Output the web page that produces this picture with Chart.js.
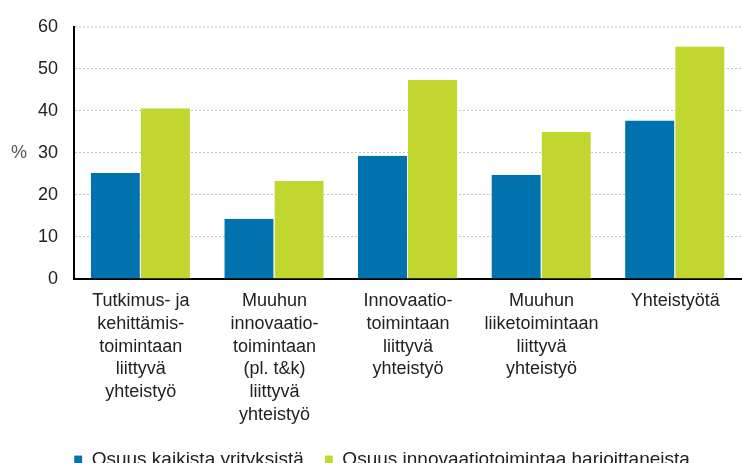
<!DOCTYPE html>
<html>
<head>
<meta charset="utf-8">
<script src="https://cdn.jsdelivr.net/npm/chart.js@4/dist/chart.umd.min.js"></script>
<style>
html,body{margin:0;padding:0;overflow:hidden;background:#fff;}
#wrap{width:742px;height:479px;position:relative;}
</style>
</head>
<body>
<div id="wrap"><canvas id="c"></canvas></div>
<script>
const categories = [
  ["Tutkimus- ja", "kehittämis-", "toimintaan", "liittyvä", "yhteistyö"],
  ["Muuhun", "innovaatio-", "toimintaan", "(pl. t&k)", "liittyvä", "yhteistyö"],
  ["Innovaatio-", "toimintaan", "liittyvä", "yhteistyö"],
  ["Muuhun", "liiketoimintaan", "liittyvä", "yhteistyö"],
  ["Yhteistyötä"]
];
const seriesNames = ["Osuus kaikista yrityksistä", "Osuus innovaatiotoimintaa harjoittaneista"];
const allFirms = [25.2, 14.3, 29.3, 24.8, 37.7];
const innovFirms = [40.6, 23.3, 47.4, 35.0, 55.3];
const yTicks = [0, 10, 20, 30, 40, 50, 60];
const yUnit = "%";

const FONT = "'Liberation Sans', Arial, sans-serif";

const unitPlugin = {
  id: 'unitLabel',
  afterDraw(chart) {
    const y = chart.scales.y;
    const ctx = chart.ctx;
    ctx.save();
    ctx.font = "18px " + FONT;
    ctx.fillStyle = "#555";
    ctx.textAlign = "center";
    ctx.textBaseline = "middle";
    ctx.fillText(yUnit, 19, y.getPixelForValue(30));
    ctx.restore();
  }
};

new Chart(document.getElementById('c'), {
  type: 'bar',
  data: {
    labels: categories,
    datasets: [
      { label: seriesNames[0], data: allFirms, backgroundColor: '#0072ae',
        borderColor: 'rgba(255,255,255,0.7)', borderWidth: {left:0, right:1, top:0, bottom:0}, borderSkipped: 'bottom' },
      { label: seriesNames[1], data: innovFirms, backgroundColor: '#c1d72f',
        borderColor: 'rgba(255,255,255,0.7)', borderWidth: {left:0, right:1, top:0, bottom:0}, borderSkipped: 'bottom' }
    ]
  },
  options: {
    responsive: true,
    maintainAspectRatio: false,
    animation: false,
    devicePixelRatio: 1,
    layout: { padding: { top: 12, right: 0, left: 22, bottom: 0 } },
    datasets: { bar: { categoryPercentage: 0.75, barPercentage: 1.0 } },
    scales: {
      x: {
        grid: { display: false },
        border: { display: true, color: '#000', width: 2 },
        ticks: { color: '#222', font: { family: FONT, size: 18, lineHeight: 1.26 }, padding: 3, maxRotation: 0, autoSkip: false }
      },
      y: {
        min: 0, max: 60,
        afterBuildTicks(scale) { scale.ticks = yTicks.map(v => ({ value: v })); },
        grid: {
          color: (ctx) => ctx.tick && ctx.tick.value === 60 ? '#dddddd' : '#c4c4c4',
          lineWidth: (ctx) => ctx.tick && ctx.tick.value === 60 ? 2 : 1,
          drawTicks: false
        },
        border: { display: true, color: '#000', width: 2, dash: [2, 2] },
        ticks: { color: '#222', font: { family: FONT, size: 18 }, padding: 16, stepSize: 10 }
      }
    },
    plugins: {
      legend: {
        position: 'bottom',
        labels: { color: '#222', font: { family: FONT, size: 19 }, boxWidth: 8, boxHeight: 8, padding: 21 }
      },
      tooltip: { enabled: false }
    }
  },
  plugins: [unitPlugin]
});
</script>
</body>
</html>
